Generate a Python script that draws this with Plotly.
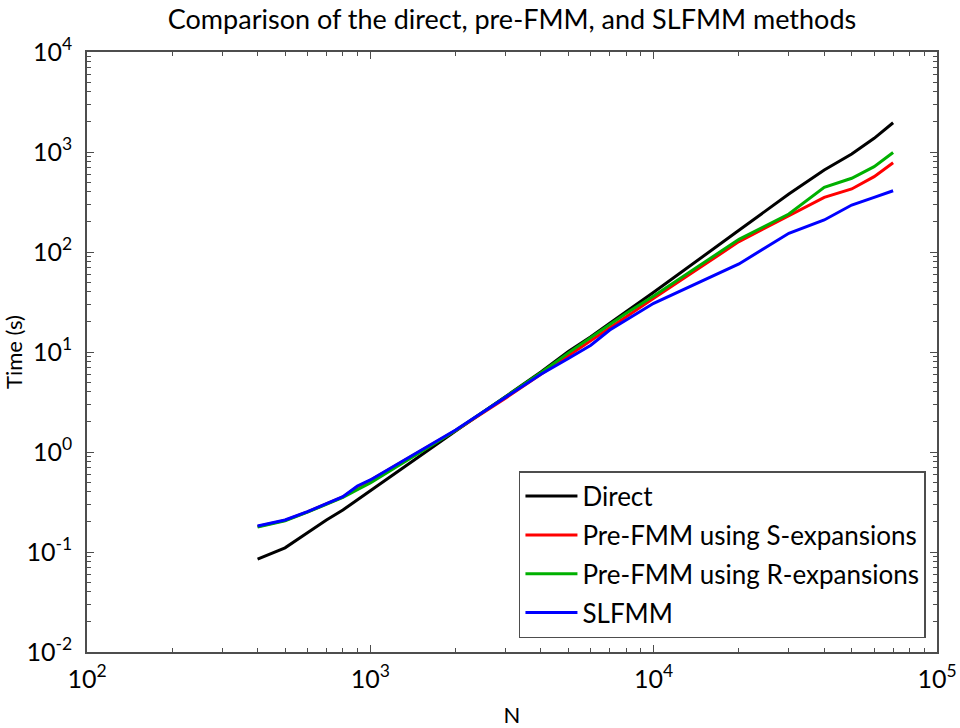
import plotly.graph_objects as go

# Problem sizes N and measured run times (seconds)
n_values = [400, 500, 600, 700, 800, 900, 1000, 2000, 3000, 4000, 5000,
            6000, 7000, 8000, 10000, 20000, 30000, 40000, 50000, 60000, 70000]

t_direct = [0.085, 0.110, 0.156, 0.209, 0.263, 0.335, 0.41, 1.62, 3.6, 6.3, 10.1,
            14.2, 19.4, 25.3, 39.5, 165, 380, 660, 955, 1370, 1960]
t_pre_s = [0.180, 0.207, 0.252, 0.305, 0.355, 0.45, 0.52, 1.64, 3.45, 6.0, 9.2,
           12.8, 17.5, 22.2, 34.4, 127, 229, 352, 427, 567, 780]
t_pre_r = [0.178, 0.205, 0.250, 0.302, 0.352, 0.42, 0.49, 1.64, 3.6, 6.2, 9.8,
           13.8, 18.8, 24.4, 36.3, 134, 240, 443, 546, 713, 990]
t_slfmm = [0.182, 0.209, 0.253, 0.307, 0.357, 0.457, 0.525, 1.66, 3.5, 6.0, 8.6,
           11.7, 16.6, 20.9, 30.7, 76, 154, 209, 295, 352, 410]

series_names = ["Direct", "Pre-FMM using S-expansions",
                "Pre-FMM using R-expansions", "SLFMM"]
series_values = [t_direct, t_pre_s, t_pre_r, t_slfmm]
series_colors = ["#000000", "#ff0000", "#00b000", "#0000ff"]

# Decade tick positions (exponents) for each axis
x_exponents = [2, 3, 4, 5]
y_exponents = [-2, -1, 0, 1, 2, 3, 4]

FONT = "Lato, 'Open Sans', sans-serif"
AXIS_COLOR = "#4d4d4d"

fig = go.Figure()
for i, (name, vals, col) in enumerate(zip(series_names, series_values, series_colors)):
    fig.add_trace(go.Scatter(
        x=n_values, y=vals, mode="lines", name=name,
        line=dict(color=col, width=3),
        legendgroup=f"g{i}",
    ))


def power_labels(exps):
    return [10.0 ** e for e in exps], [f"10<sup>{e}</sup>" for e in exps]


def minor_values(exps):
    # 2..9 times each decade, inside the axis range
    return [k * 10.0 ** e for e in exps[:-1] for k in range(2, 10)]


def axis_style(exps):
    return dict(
        type="log",
        showgrid=False,
        zeroline=False,
        showline=True,
        linecolor=AXIS_COLOR,
        linewidth=1.5,
        mirror="allticks",
        ticks="inside",
        ticklen=7,
        tickwidth=1,
        tickcolor=AXIS_COLOR,
        automargin=False,
        tickfont=dict(family=FONT, size=25, color="#000000"),
        minor=dict(ticks="inside", ticklen=4, tickwidth=1, tickcolor=AXIS_COLOR,
                   showgrid=False, tickmode="array", tickvals=minor_values(exps)),
    )


xv, xt = power_labels(x_exponents)
yv, yt = power_labels(y_exponents)

fig.update_xaxes(
    range=[2, 5],
    tickmode="array", tickvals=xv, ticktext=xt,
    title=dict(text="N", font=dict(family=FONT, size=22, color="#000000"), standoff=24),
    ticklabelstandoff=4,
    **axis_style(x_exponents),
)
fig.update_yaxes(
    range=[-2, 4],
    tickmode="array", tickvals=yv, ticktext=yt,
    title=dict(text="Time (s)", font=dict(family=FONT, size=22, color="#000000"), standoff=8),
    ticklabelstandoff=8,
    **axis_style(y_exponents),
)

fig.update_layout(
    width=960,
    height=728,
    paper_bgcolor="white",
    plot_bgcolor="white",
    margin=dict(l=87, r=23, t=52, b=76),
    title=dict(
        text="Comparison of the direct, pre-FMM, and SLFMM methods",
        x=(87 + 937) / 2 / 960, xanchor="center",
        y=1 - 20 / 728, yanchor="middle",
        font=dict(family=FONT, size=27, color="#000000"),
    ),
    legend=dict(
        x=0.987, y=0.023, xanchor="right", yanchor="bottom",
        bgcolor="white",
        bordercolor=AXIS_COLOR, borderwidth=1.5,
        font=dict(family=FONT, size=26, color="#000000"),
        tracegroupgap=2,
        itemwidth=52,
    ),
    showlegend=True,
)

fig.write_html("out.html")
